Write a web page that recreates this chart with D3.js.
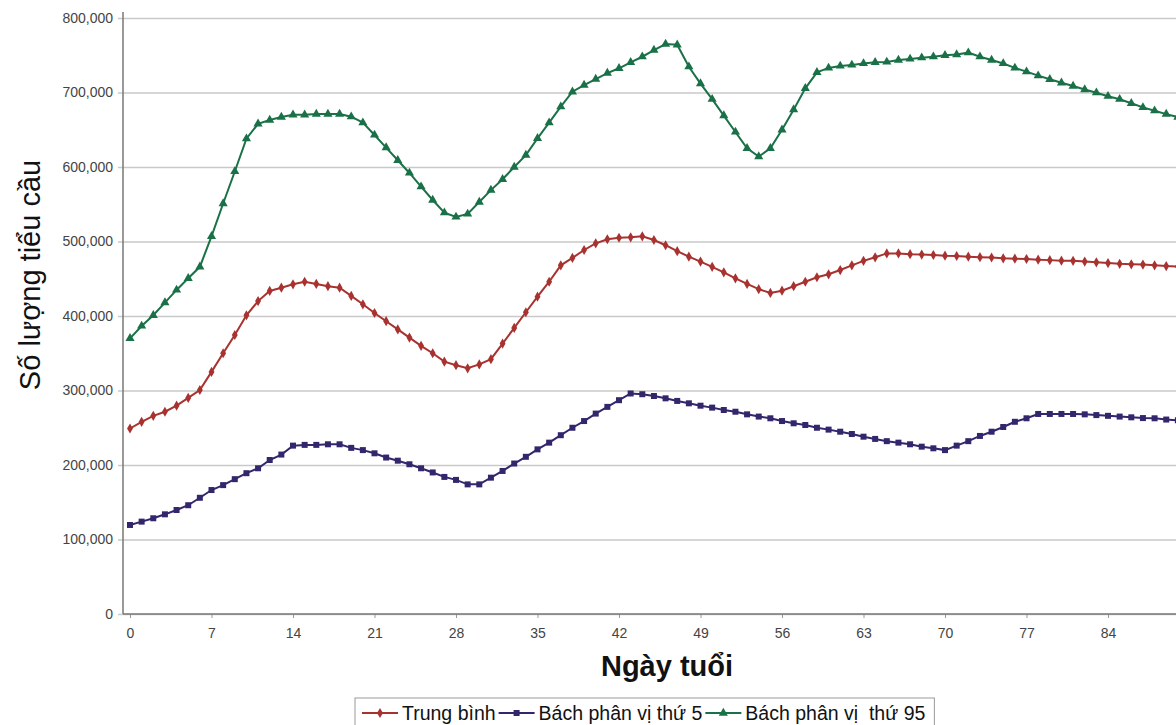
<!DOCTYPE html>
<html>
  <head>
    <title>Số lượng tiểu cầu theo ngày tuổi</title>
    <script src="https://d3js.org/d3.v7.min.js"></script>
    <style>
      body { margin: 0; background: #fff; }
      svg { display: block; font-family: "Liberation Sans", Arial, sans-serif; }
      .y-axis .tick text, .x-axis .tick text { font-size: 14px; fill: #444; }
      .y-axis .tick line { stroke: #c9c9c9; stroke-width: 1.5; }
      .axis-title { fill: #111; }
      .legend text { font-size: 19.5px; fill: #111; }
    </style>
  </head>
  <body>
    <svg width="1176" height="725"></svg>
    <script>
      // days 0..90
      const days = d3.range(0, 91);
      const meanValues = [
        249, 258, 266, 271.5, 279.6, 290, 300.7, 325, 350, 374.5,
        401, 420, 433.6, 438, 442.5, 446, 443, 440, 438, 427,
        415.7, 404, 393, 382, 371, 360, 350, 338.7, 334, 329.8,
        335, 342, 363, 384, 405, 426, 446, 468, 478, 488.6,
        497.5, 503, 505, 505.6, 507, 502, 495, 487, 479.6, 473,
        466, 458.6, 450.6, 443, 436, 431, 434, 440, 446, 452,
        456, 461.7, 468, 474, 478.8, 484, 484, 483, 482.5, 481.9,
        481, 480.5, 479.6, 479, 478.5, 477.4, 477, 476.5, 475.6, 475,
        474.3, 474, 473, 472, 471, 470, 469.4, 469, 468, 467,
        466.5
      ];
      const p5Values = [
        119.5, 124, 128.5, 133.8, 139.6, 146, 156, 166.4, 173, 181,
        189, 195.6, 206.7, 214, 226, 227, 227, 227.8, 227.8, 223,
        220, 215.7, 210, 205.8, 201, 195.6, 190, 184, 180, 174,
        174, 183, 192, 202, 211, 221, 230, 240, 250, 259,
        269, 278, 287, 296, 295, 292.6, 289.5, 286, 282.8, 279.6,
        277, 273.8, 271.5, 268, 265, 262.7, 259, 256, 253.7, 250,
        247.5, 244.7, 241.6, 238, 235, 232, 230, 227.8, 224.6, 222.4,
        220, 226, 232, 239, 244.7, 251, 258, 262.7, 268.5, 268.5,
        268.5, 268.5, 268, 267, 266, 265, 264, 263, 262.7, 261,
        260
      ];
      const p95Values = [
        370, 386.6, 401, 418, 435, 450.6, 466, 507, 551, 594,
        638, 658, 663, 667, 670, 670, 671, 671, 671, 667.5,
        659.5, 643, 626, 609, 592, 573.6, 555.7, 538.7, 533, 537,
        553, 569, 583.5, 600, 616, 638.5, 659.5, 681, 701, 710,
        718, 726, 732.5, 740.5, 748, 757, 765, 764, 734.6, 712,
        691, 669, 647, 625, 614, 625, 650, 677, 705.6, 727,
        733, 735.6, 737, 739, 740.5, 741, 743.6, 745, 746.7, 748,
        750, 751, 753.5, 748, 743.6, 739, 733, 728, 722.6, 717.7,
        713, 708.7, 704, 699.7, 695, 691, 685.5, 680, 675.6, 671,
        667
      ];
      const xTicks = d3.range(0, 85, 7);
      const yTicks = d3.range(0, 800001, 100000);

      const seriesNames = ["Trung bình", "Bách phân vị thứ 5", "Bách phân vị\u00a0 thứ 95"];
      const seriesColors = ["#a8322f", "#33266c", "#1a7147"];
      const seriesSymbols = [d3.symbolDiamond, d3.symbolSquare, d3.symbolTriangle];
      const seriesSizes = [30, 36, 36];
      const seriesValues = [meanValues, p5Values, p95Values];

      const svg = d3.select("svg");
      const axisX = 123;
      const plotTop = 18, plotBottom = 614, plotRight = 1176;

      const x = d3.scaleLinear().domain([0, 90]).range([130, 130 + 90 * 11.643]);
      const y = d3.scaleLinear().domain([0, 800000]).range([plotBottom, plotTop]);

      // gridlines + y labels
      const yAxisG = svg.append("g")
          .attr("class", "y-axis")
          .attr("transform", `translate(${axisX},0)`)
          .call(d3.axisLeft(y)
            .tickValues(yTicks)
            .tickFormat(d3.format(","))
            .tickSize(-(plotRight - axisX))
            .tickPadding(10));
      yAxisG.select(".domain").remove();
      yAxisG.selectAll(".tick line").attr("x1", -5);

      // x axis
      const xAxisG = svg.append("g")
          .attr("class", "x-axis")
          .attr("transform", `translate(0,${plotBottom})`)
          .call(d3.axisBottom(x).tickValues(xTicks).tickSize(4).tickPadding(10));
      xAxisG.select(".domain").remove();
      xAxisG.selectAll(".tick line").attr("stroke", "#999");

      svg.append("line")
          .attr("x1", axisX).attr("x2", plotRight)
          .attr("y1", plotBottom).attr("y2", plotBottom)
          .attr("stroke", "#777").attr("stroke-width", 1.5);
      svg.append("line")
          .attr("x1", axisX).attr("x2", axisX)
          .attr("y1", 12).attr("y2", plotBottom)
          .attr("stroke", "#777").attr("stroke-width", 1.5);

      // titles
      svg.append("text")
          .attr("class", "axis-title")
          .attr("x", 667).attr("y", 676)
          .attr("text-anchor", "middle")
          .style("font-size", "29px").style("font-weight", "bold")
          .text("Ngày tuổi");
      svg.append("text")
          .attr("class", "axis-title")
          .attr("transform", "translate(40,275) rotate(-90)")
          .attr("text-anchor", "middle")
          .style("font-size", "29px")
          .text("Số lượng tiểu cầu");

      // series
      const line = d3.line()
        .x((d, i) => x(days[i]))
        .y(d => y(d * 1000));

      seriesValues.forEach((vals, s) => {
        const g = svg.append("g");
        g.append("path")
            .attr("d", line(vals))
            .attr("fill", "none")
            .attr("stroke", seriesColors[s])
            .attr("stroke-width", 2);
        g.selectAll("path.mark")
          .data(vals)
          .enter().append("path")
            .attr("class", "mark")
            .attr("transform", (d, i) => `translate(${x(days[i])},${y(d * 1000)})`)
            .attr("d", d3.symbol().type(seriesSymbols[s]).size(seriesSizes[s]))
            .attr("fill", seriesColors[s]);
      });

      // legend, laid out from the text widths
      const legendG = svg.append("g").attr("class", "legend");
      const legendBox = legendG.append("rect")
          .attr("x", 355).attr("y", 698).attr("height", 40)
          .attr("fill", "#fff").attr("stroke", "#999");
      let lx = 362;
      seriesNames.forEach((name, s) => {
        legendG.append("line")
            .attr("x1", lx).attr("x2", lx + 36)
            .attr("y1", 713).attr("y2", 713)
            .attr("stroke", seriesColors[s]).attr("stroke-width", 2);
        legendG.append("path")
            .attr("transform", `translate(${lx + 18},713)`)
            .attr("d", d3.symbol().type(seriesSymbols[s]).size(seriesSizes[s]))
            .attr("fill", seriesColors[s]);
        const t = legendG.append("text")
            .attr("x", lx + 40).attr("y", 720)
            .text(name);
        lx += 40 + t.node().getComputedTextLength() + 3;
      });
      legendBox.attr("width", lx - 355 + 6);
    </script>
  </body>
</html>
